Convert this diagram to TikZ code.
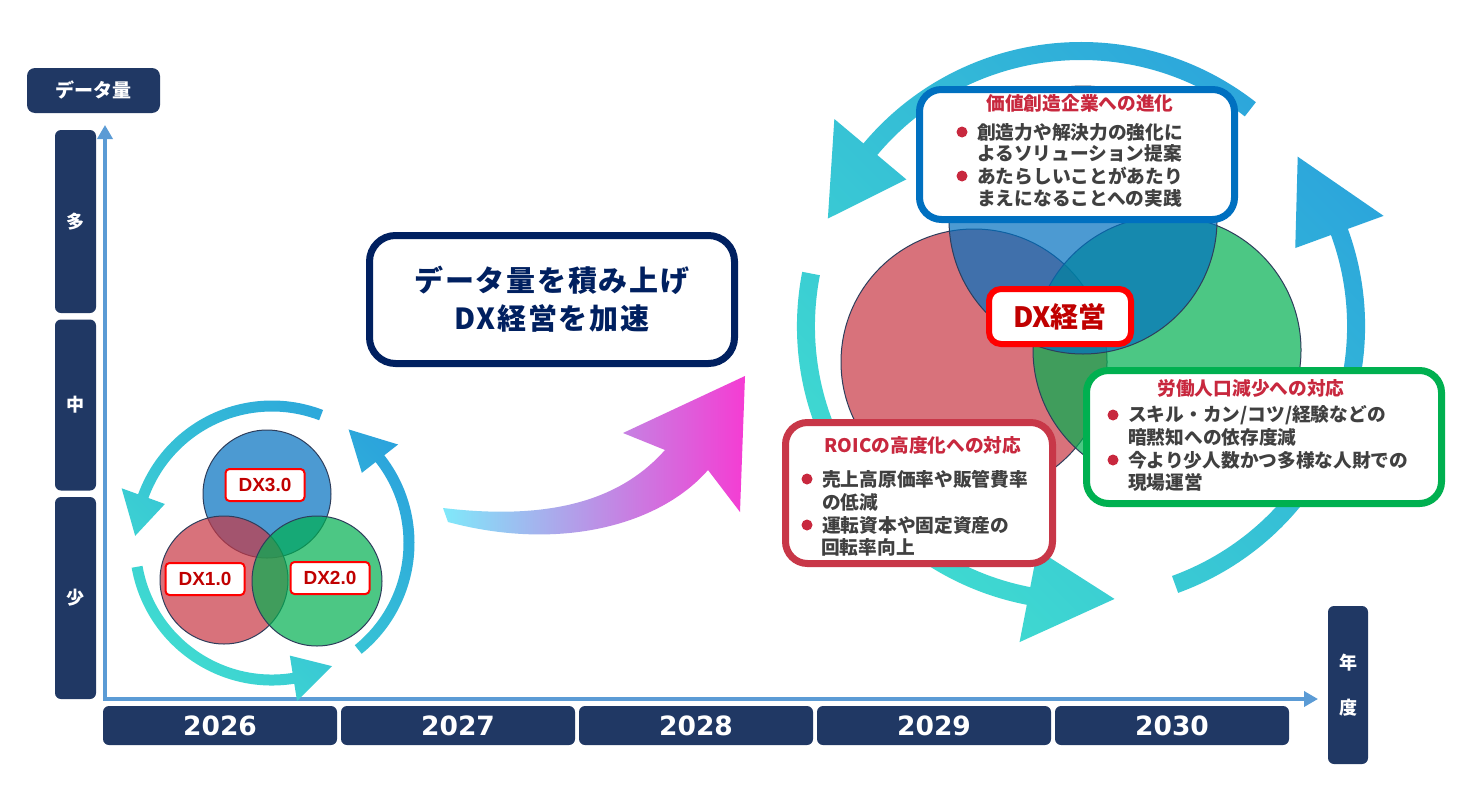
\documentclass[tikz,border=0pt]{standalone}
\usepackage{fontspec}
\setmainfont{Liberation Sans}
\newfontfamily\jp{Noto Sans CJK JP}
\newfontfamily\jpls{Noto Sans CJK JP}[LetterSpace=6]
\newfontfamily\dvs{DejaVu Sans}
\usetikzlibrary{arrows.meta,shapes.geometric}

\definecolor{navy}{HTML}{203864}
\definecolor{axisblue}{HTML}{5B9BD5}
\definecolor{msgnavy}{HTML}{002060}
\definecolor{ttlred}{HTML}{C8283E}
\definecolor{bodygray}{HTML}{404040}
\definecolor{dxred}{HTML}{C00000}
\definecolor{brdred}{HTML}{FF0000}
\definecolor{vblue}{HTML}{0070C0}
\definecolor{vgreen}{HTML}{00B050}
\definecolor{vred}{RGB}{200,55,68}
\definecolor{roicred}{RGB}{200,55,72}
\definecolor{cycblue}{HTML}{2BA3DC}
\definecolor{cycteal}{HTML}{40DCD0}
\definecolor{venline}{HTML}{2E3E5C}
\definecolor{arrcyan}{HTML}{7FE9FA}
\definecolor{arrmid}{HTML}{B0A8E8}
\definecolor{arrmag}{HTML}{F53CD3}

% R, half thickness, half head width, start, base, tip
\newcommand{\cycarrow}[6]{(#4:{#1+#2}) arc[start angle=#4, end angle=#5, radius={#1+#2}] -- (#5:{#1+#3}) -- (#6:#1) -- (#5:{#1-#3}) -- (#5:{#1-#2}) arc[start angle=#5, end angle=#4, radius={#1-#2}] -- cycle}

\begin{document}
\begin{tikzpicture}[x=1pt,y=1pt,
  navbox/.style={fill=navy, rounded corners=6pt, inner sep=0pt, text=white},
  navtxt/.style={font=\jp\bfseries\fontsize{18}{45}\selectfont},
  yearbox/.style={navbox, minimum width=234pt, minimum height=39pt, font=\dvs\bfseries\fontsize{26.5}{30}\selectfont},
  vcircle/.style={circle, draw=venline, line width=1pt, fill opacity=0.7, inner sep=0pt},
  dxlab/.style={draw=brdred, line width=2pt, fill=white, rounded corners=4pt, minimum width=79pt, minimum height=32pt, inner sep=0pt, text=dxred, font=\bfseries\fontsize{19}{19}\selectfont},
  panel/.style={line width=7pt, fill=white, rounded corners=22pt, inner sep=0pt},
  ttl/.style={text=ttlred, inner sep=0pt, font=\jp\bfseries\fontsize{18.7}{22}\selectfont},
  body/.style={text=bodygray, inner sep=0pt, anchor=west, font=\jp\bfseries\fontsize{18.7}{22}\selectfont},
  bul/.style={circle, fill=ttlred, minimum size=11pt, inner sep=0pt},
  axisline/.style={draw=axisblue, line width=4pt, {Triangle[width=15pt,length=14pt]}-{Triangle[width=15pt,length=14pt]}}
]
\useasboundingbox (0,0) rectangle (1471,-803);
\fill[white] (0,0) rectangle (1471,-803);

% ---------- axes ----------
\coordinate (ytop) at (105,-125);
\coordinate (orig) at (105,-699);
\coordinate (xend) at (1318,-699);
\draw[axisline] (ytop) -- (orig) -- (xend);

% ---------- small cycle ----------
\begin{scope}[shift={(272,-543)}]
\shade[top color=cycblue, bottom color=cycteal, shading angle=-45]
  \cycarrow{137}{5.5}{23}{69}{160}{177}
  \cycarrow{137}{5.5}{23}{190}{279}{296}
  \cycarrow{137}{5.5}{23}{309}{398}{416};
\end{scope}

% ---------- small Venn ----------
\node[vcircle, fill=vblue, minimum size=128pt] (sblue) at (267,-494) {};
\node[vcircle, fill=vred, minimum size=128pt] (sred) at (224,-580) {};
\node[vcircle, fill=vgreen, minimum size=130pt] (sgreen) at (317,-581) {};
\node[dxlab] (l3) at (265,-485) {DX3.0};
\node[dxlab] (l1) at (205,-579) {DX1.0};
\node[dxlab] (l2) at (330,-578) {DX2.0};

% ---------- axis labels ----------
\node[navbox, minimum width=133pt, minimum height=45pt, rounded corners=8pt, font=\jp\bfseries\fontsize{19}{22}\selectfont] (dq) at (93.5,-90.5) {データ量};
\node[navbox, navtxt, minimum width=41pt, minimum height=183pt] (ymany) at (75.5,-221.5) {多};
\node[navbox, navtxt, minimum width=41pt, minimum height=171pt] (ymid) at (75.5,-405) {中};
\node[navbox, navtxt, minimum width=41pt, minimum height=202pt] (yfew) at (75.5,-598) {少};

\node[yearbox] (y26) at (220,-725.5) {2026};
\node[yearbox] (y27) at (458,-725.5) {2027};
\node[yearbox] (y28) at (696,-725.5) {2028};
\node[yearbox] (y29) at (934,-725.5) {2029};
\node[yearbox] (y30) at (1172,-725.5) {2030};
\node[navbox, navtxt, minimum width=40pt, minimum height=158pt, align=center] (nendo) at (1348,-685) {年\\度};

% ---------- gradient arrow ----------
\shade[left color=arrcyan, middle color=arrmid, right color=arrmag]
  (443,-508) .. controls (560,-522) and (625,-495) .. (665,-450)
  -- (623,-433) -- (745,-376) -- (740,-512) -- (708,-470)
  .. controls (660,-525) and (560,-552) .. (448,-522) -- cycle;

% ---------- message box ----------
\node[panel, draw=msgnavy, rounded corners=26pt, minimum width=365pt, minimum height=128pt] (msg) at (552,-299.5) {};
\node[text=msgnavy, inner sep=0pt, font=\jpls\bfseries\fontsize{29}{36}\selectfont] (msg1) at (552,-280) {データ量を積み上げ};
\node[text=msgnavy, inner sep=0pt, font=\jpls\bfseries\fontsize{29}{36}\selectfont] (msg2) at (552,-318) {DX経営を加速};

% ---------- big cycle ----------
\begin{scope}[shift={(1081,-326)}]
\shade[top color=cycblue, bottom color=cycteal, shading angle=-45]
  \cycarrow{275}{9}{47}{52}{140}{157}
  \cycarrow{275}{9}{47}{169}{259}{277}
  \cycarrow{275}{9}{47}{290}{380}{398};
\end{scope}

% ---------- big Venn ----------
\node[vcircle, fill=vred, minimum size=266pt] (bred) at (974,-362) {};
\node[vcircle, fill=vgreen, minimum size=268pt] (bgreen) at (1167,-350) {};
\node[vcircle, fill=vblue, minimum size=268pt] (bblue) at (1083,-220) {};

% ---------- DX management ----------
\node[draw=brdred, line width=6pt, fill=white, rounded corners=12pt, minimum width=142pt, minimum height=55pt, inner sep=0pt, text=dxred, font=\jp\bfseries\fontsize{28}{30}\selectfont] (dxm) at (1060,-316.5) {DX経営};

% ---------- top panel ----------
\node[panel, draw=vblue, minimum width=315pt, minimum height=130pt] (ptop) at (1077,-154.5) {};
\node[ttl] (ttop) at (1080,-103) {価値創造企業への進化};
\node[bul] (bt1) at (962,-132) {};
\node[bul] (bt2) at (962,-176) {};
\node[body] (t1) at (977,-132) {創造力や解決力の強化に};
\node[body] (t2) at (977,-153) {よるソリューション提案};
\node[body] (t3) at (977,-176) {あたらしいことがあたり};
\node[body] (t4) at (977,-198) {まえになることへの実践};

% ---------- ROIC panel ----------
\node[panel, draw=roicred, minimum width=267pt, minimum height=141pt] (proic) at (919,-493) {};
\node[ttl] (troic) at (923,-445) {ROICの高度化への対応};
\node[bul] (br1) at (807,-479) {};
\node[bul] (br2) at (807,-525) {};
\node[body] (r1) at (822,-479) {売上高原価率や販管費率};
\node[body] (r2) at (822,-502) {の低減};
\node[body] (r3) at (822,-525) {運転資本や固定資産の};
\node[body] (r4) at (821,-547) {回転率向上};

% ---------- labour panel ----------
\node[panel, draw=vgreen, minimum width=355pt, minimum height=133pt] (plab) at (1264,-437) {};
\node[ttl] (tlab) at (1251,-388) {労働人口減少への対応};
\node[bul] (bg1) at (1113,-415) {};
\node[bul] (bg2) at (1113,-460) {};
\node[body] (g1) at (1128,-415) {スキル・カン/コツ/経験などの};
\node[body] (g2) at (1128,-437) {暗黙知への依存度減};
\node[body] (g3) at (1128,-460) {今より少人数かつ多様な人財での};
\node[body] (g4) at (1128,-482) {現場運営};
\end{tikzpicture}
\end{document}
